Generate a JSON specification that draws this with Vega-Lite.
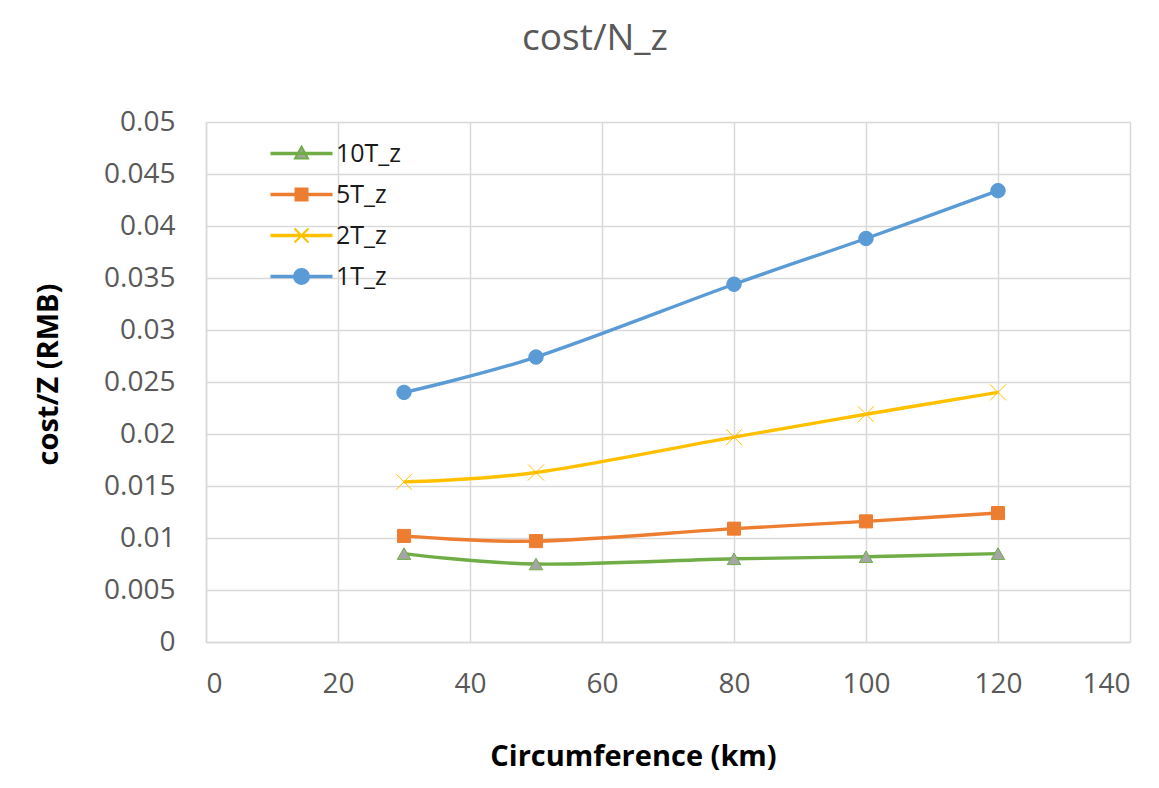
{
  "$schema": "https://vega.github.io/schema/vega-lite/v6.json",
  "autosize": {"type": "none"},
  "width": 924,
  "height": 520,
  "padding": {"left": 206, "top": 122, "right": 29, "bottom": 146},
  "background": "white",
  "title": {
    "text": "cost/N_z",
    "anchor": "middle",
    "frame": "group",
    "dx": -73,
    "offset": 50,
    "font": "Open Sans",
    "fontSize": 37,
    "fontWeight": "normal",
    "color": "#595959"
  },
  "config": {
    "view": {"stroke": null},
    "axis": {
      "gridColor": "#d9d9d9",
      "gridWidth": 1.5,
      "domainColor": "#d9d9d9",
      "domainWidth": 1.5,
      "ticks": false,
      "labelFont": "Open Sans",
      "labelFontSize": 28,
      "labelColor": "#595959",
      "titleFont": "Open Sans",
      "titleFontSize": 29,
      "titleFontWeight": "bold",
      "titleColor": "#000000"
    }
  },
  "data": {
    "values": [
      {"series": "1T_z", "circ": 30, "cost": 0.0240},
      {"series": "1T_z", "circ": 50, "cost": 0.0274},
      {"series": "1T_z", "circ": 80, "cost": 0.0344},
      {"series": "1T_z", "circ": 100, "cost": 0.0388},
      {"series": "1T_z", "circ": 120, "cost": 0.0434},
      {"series": "2T_z", "circ": 30, "cost": 0.0154},
      {"series": "2T_z", "circ": 50, "cost": 0.0163},
      {"series": "2T_z", "circ": 80, "cost": 0.0197},
      {"series": "2T_z", "circ": 100, "cost": 0.0219},
      {"series": "2T_z", "circ": 120, "cost": 0.0240},
      {"series": "5T_z", "circ": 30, "cost": 0.0102},
      {"series": "5T_z", "circ": 50, "cost": 0.0097},
      {"series": "5T_z", "circ": 80, "cost": 0.0109},
      {"series": "5T_z", "circ": 100, "cost": 0.0116},
      {"series": "5T_z", "circ": 120, "cost": 0.0124},
      {"series": "10T_z", "circ": 30, "cost": 0.0085},
      {"series": "10T_z", "circ": 50, "cost": 0.0075},
      {"series": "10T_z", "circ": 80, "cost": 0.0080},
      {"series": "10T_z", "circ": 100, "cost": 0.0082},
      {"series": "10T_z", "circ": 120, "cost": 0.0085}
    ]
  },
  "encoding": {
    "x": {
      "field": "circ",
      "type": "quantitative",
      "scale": {"domain": [0, 140], "nice": false},
      "axis": {
        "values": [0, 20, 40, 60, 80, 100, 120, 140],
        "labelPadding": 28,
        "title": "Circumference (km)",
        "titleX": 427,
        "titleY": 123,
        "titleBaseline": "alphabetic",
        "titleAnchor": null
      }
    },
    "y": {
      "field": "cost",
      "type": "quantitative",
      "scale": {"domain": [0, 0.05], "nice": false},
      "axis": {
        "values": [0, 0.005, 0.01, 0.015, 0.02, 0.025, 0.03, 0.035, 0.04, 0.045, 0.05],
        "format": "~g",
        "labelPadding": 31,
        "title": "cost/Z (RMB)",
        "titleX": -158,
        "titleY": 252,
        "titleAngle": -90,
        "titleBaseline": "middle",
        "titleAnchor": null
      }
    }
  },
  "layer": [
    {
      "mark": {"type": "line", "interpolate": "cardinal", "strokeWidth": 3.4},
      "encoding": {
        "color": {
          "field": "series",
          "type": "nominal",
          "scale": {
            "domain": ["10T_z", "5T_z", "2T_z", "1T_z"],
            "range": ["#70ad47", "#ed7d31", "#ffc000", "#5b9bd5"]
          },
          "legend": {
            "title": null,
            "orient": "none",
            "legendX": 83,
            "legendY": 19,
            "symbolSize": 400,
            "labelFont": "Open Sans",
            "labelFontSize": 25,
            "labelColor": "#1a1a1a",
            "labelOffset": 22,
            "rowPadding": 15,
            "encode": {
              "symbols": {
                "update": {
                  "shape": {"signal": "datum.value === '10T_z' ? 'M-3,-0.08H3V0.08H-3Z M0,-0.7L0.65,0.5L-0.65,0.5Z' : datum.value === '5T_z' ? 'M-3,-0.08H3V0.08H-3Z M-0.6,-0.6H0.6V0.6H-0.6Z' : datum.value === '2T_z' ? 'M-3,-0.08H3V0.08H-3Z M-0.7,-0.7L0.7,0.7M-0.7,0.7L0.7,-0.7' : 'M-3,-0.08H3V0.08H-3Z M0.75,0A0.75,0.75 0 1,1 -0.75,0A0.75,0.75 0 1,1 0.75,0Z'"},
                  "fill": {"signal": "datum.value === '10T_z' ? '#a5a5a5' : datum.value === '5T_z' ? '#ed7d31' : datum.value === '2T_z' ? '#ffc000' : '#5b9bd5'"},
                  "fillOpacity": {"value": 1},
                  "stroke": {"signal": "datum.value === '10T_z' ? '#70ad47' : datum.value === '5T_z' ? '#ed7d31' : datum.value === '2T_z' ? '#ffc000' : '#5b9bd5'"},
                  "strokeWidth": {"value": 2}
                }
              }
            }
          }
        }
      }
    },
    {
      "transform": [{"filter": "datum.series === '10T_z'"}],
      "mark": {"type": "point", "shape": "triangle-up", "filled": true, "fill": "#a5a5a5", "stroke": "#70ad47", "strokeWidth": 1, "opacity": 1, "size": 180},
      "encoding": {}
    },
    {
      "transform": [{"filter": "datum.series === '5T_z'"}],
      "mark": {"type": "point", "shape": "square", "filled": true, "fill": "#ed7d31", "stroke": "#ed7d31", "strokeWidth": 1, "opacity": 1, "size": 170},
      "encoding": {}
    },
    {
      "transform": [{"filter": "datum.series === '2T_z'"}],
      "mark": {"type": "point", "shape": "M-1,-1L1,1M-1,1L1,-1", "filled": false, "stroke": "#ffc000", "strokeWidth": 1, "opacity": 1, "size": 260},
      "encoding": {}
    },
    {
      "transform": [{"filter": "datum.series === '1T_z'"}],
      "mark": {"type": "point", "shape": "circle", "filled": true, "fill": "#5b9bd5", "stroke": "#5b9bd5", "strokeWidth": 1, "opacity": 1, "size": 210},
      "encoding": {}
    }
  ]
}
